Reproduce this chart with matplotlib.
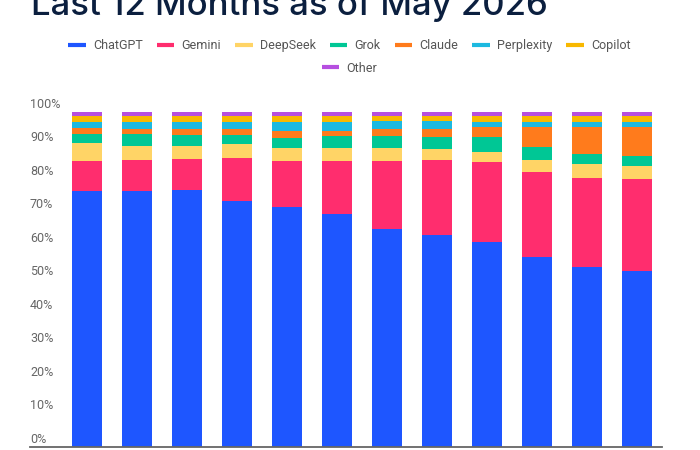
import matplotlib
matplotlib.use("Agg")
import matplotlib.pyplot as plt
from matplotlib.lines import Line2D
from matplotlib import font_manager as fm
import numpy as np

title = "Last 12 Months as of May 2026"
months = ["Jun 2025", "Jul 2025", "Aug 2025", "Sep 2025", "Oct 2025", "Nov 2025",
          "Dec 2025", "Jan 2026", "Feb 2026", "Mar 2026", "Apr 2026", "May 2026"]
series_names = ["ChatGPT", "Gemini", "DeepSeek", "Grok", "Claude", "Perplexity", "Copilot", "Other"]
chatgpt    = [76.4, 76.4, 76.7, 73.4, 71.6, 69.6, 65.1, 63.3, 61.2, 56.7, 53.7, 52.5]
gemini     = [8.9, 9.2, 9.2, 12.8, 13.7, 15.7, 20.2, 22.3, 23.8, 25.3, 26.5, 27.4]
deepseek   = [5.3, 4.3, 4.0, 4.2, 3.8, 3.9, 3.9, 3.2, 2.9, 3.6, 4.2, 3.9]
grok       = [2.7, 3.4, 3.1, 2.6, 3.1, 3.5, 3.5, 3.7, 4.4, 3.8, 3.0, 3.1]
claude     = [1.7, 1.5, 1.8, 1.8, 2.0, 1.5, 2.0, 2.2, 3.0, 6.0, 8.0, 8.6]
perplexity = [2.0, 2.2, 2.2, 2.2, 2.8, 2.8, 2.6, 2.6, 1.7, 1.6, 1.4, 1.3]
copilot    = [1.8, 1.8, 1.8, 1.8, 1.8, 1.8, 1.5, 1.5, 1.8, 1.8, 2.0, 2.0]
other      = [1.2, 1.2, 1.2, 1.2, 1.2, 1.2, 1.2, 1.2, 1.2, 1.2, 1.2, 1.2]
y_ticks = [0, 10, 20, 30, 40, 50, 60, 70, 80, 90, 100]
y_tick_labels = [f"{t}%" for t in y_ticks]

colors = ["#1e56ff", "#ff2d6e", "#ffd466", "#00c795", "#ff7b1c", "#1cb9e0", "#f8b800", "#b64fe0"]
series = [chatgpt, gemini, deepseek, grok, claude, perplexity, copilot, other]

names = {f.name for f in fm.fontManager.ttflist}
title_font = "Inter" if "Inter" in names else "DejaVu Sans"

fig = plt.figure(figsize=(7, 4.5), dpi=100)
ax = fig.add_axes([30 / 700, (450 - 446.7) / 450, 632 / 700, 335 / 450])

x = np.arange(len(months))
bottom = np.zeros(len(months))
for vals, col, name in zip(series, colors, series_names):
    v = np.array(vals)
    ax.bar(x, v, bottom=bottom, width=0.6, color=col, linewidth=0, label=name)
    bottom += v

ax.set_xlim(-1.14, 11.5)
ax.set_ylim(0, 100)
for s in ["top", "right", "left"]:
    ax.spines[s].set_visible(False)
ax.spines["bottom"].set_color("#666666")
ax.spines["bottom"].set_linewidth(1.3)
ax.set_xticks([])
ax.set_yticks([])

for t, lab in zip(y_ticks, y_tick_labels):
    ax.annotate(lab, xy=(0, t), xycoords=("axes fraction", "data"),
                xytext=(0, 5.4), textcoords="offset points",
                ha="left", va="center", fontsize=9, color="#666666",
                family="Roboto", annotation_clip=False)

fig.text(31 / 700, 1 - 15 / 450, title, fontsize=25, color="#0b1f3f",
         family=title_font, fontweight="medium", ha="left", va="baseline")

handles = [Line2D([0], [0], color=c, lw=3, solid_capstyle="butt") for c in colors]
common = dict(frameon=False, handlelength=1.4, handletextpad=0.58,
              columnspacing=1.12, prop={"family": "Roboto", "size": 9},
              labelcolor="#555555")
leg1 = fig.legend(handles[:7], series_names[:7], loc="center", ncol=7,
                  bbox_to_anchor=(349.5 / 700, 1 - 45.7 / 450), **common)
leg2 = fig.legend(handles[7:], series_names[7:], loc="center", ncol=1,
                  bbox_to_anchor=(349.5 / 700, 1 - 68.3 / 450), **common)

fig.savefig("out.png", dpi=100)
